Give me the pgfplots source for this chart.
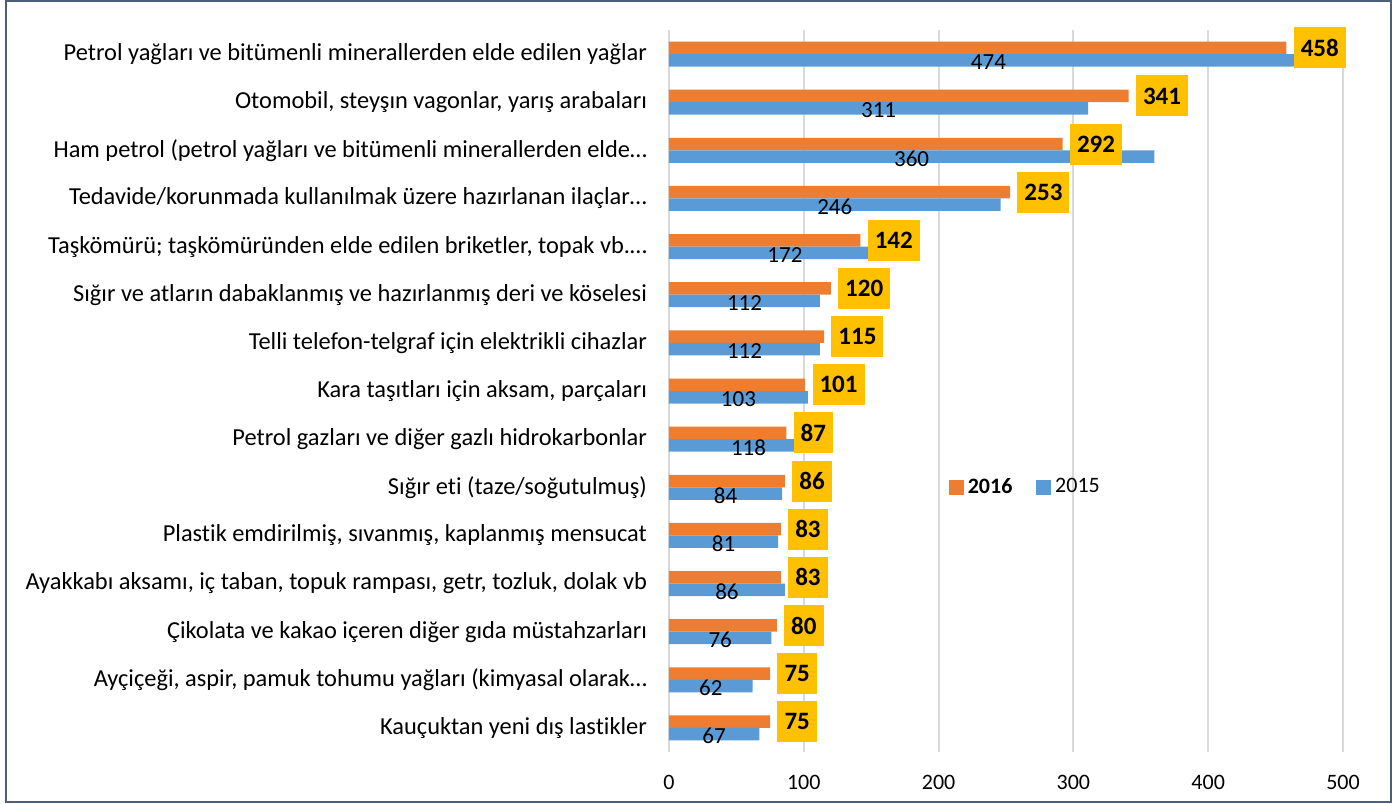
\documentclass[border=0pt]{standalone}
\usepackage{pgfplots}
\pgfplotsset{compat=1.18}
\usepackage{pgfplotstable}
\usepackage{fontspec}
\setmainfont[Ligatures={NoCommon}]{Carlito}
\definecolor{c16}{HTML}{ED7D31}
\definecolor{c15}{HTML}{5B9BD5}
\definecolor{cbox}{HTML}{FFC000}
\definecolor{cgrid}{HTML}{D9D9D9}
\definecolor{cframe}{HTML}{4F5F78}

\pgfplotstableread{
i v16 v15
0 458 474
1 341 311
2 292 360
3 253 246
4 142 172
5 120 112
6 115 112
7 101 103
8 87 118
9 86 84
10 83 81
11 83 86
12 80 76
13 75 62
14 75 67
}\data

\begin{document}
\begin{tikzpicture}
\useasboundingbox (-334.5pt,-25.5pt) rectangle (365.5pt,376pt);
\draw[cframe, line width=1pt] (-331.5pt,-24.75pt) rectangle (361pt,375.25pt);
\begin{axis}[
  at={(0,0)}, anchor=south west,
  scale only axis, width=337pt, height=361pt,
  xmin=0, xmax=500, ymin=-0.5, ymax=14.5, y dir=reverse,
  /pgf/number format/assume math mode=true,
  axis line style={draw=none},
  major tick length=0pt,
  xmajorgrids, grid style={cgrid, line width=1pt},
  xtick={0,100,...,500},
  ytick={0,...,14},
  yticklabels={
    {Petrol yağları ve bitümenli minerallerden elde edilen yağlar},
    {Otomobil, steyşın vagonlar, yarış arabaları},
    {Ham petrol (petrol yağları ve bitümenli minerallerden elde…},
    {Tedavide/korunmada kullanılmak üzere hazırlanan ilaçlar…},
    {Taşkömürü; taşkömüründen elde edilen briketler, topak vb.…},
    {Sığır ve atların dabaklanmış ve hazırlanmış deri ve köselesi},
    {Telli telefon-telgraf için elektrikli cihazlar},
    {Kara taşıtları için aksam, parçaları},
    {Petrol gazları ve diğer gazlı hidrokarbonlar},
    {Sığır eti (taze/soğutulmuş)},
    {Plastik emdirilmiş, sıvanmış, kaplanmış mensucat},
    {Ayakkabı aksamı, iç taban, topuk rampası, getr, tozluk, dolak vb},
    {Çikolata ve kakao içeren diğer gıda müstahzarları},
    {Ayçiçeği, aspir, pamuk tohumu yağları (kimyasal olarak…},
    {Kauçuktan yeni dış lastikler}},
  yticklabel style={font=\fontsize{12.2}{14}\selectfont, anchor=east, xshift=-7.5pt},
  xticklabel style={font=\fontsize{11}{13}\selectfont, yshift=-8pt},
  legend style={at={(axis cs:203,9)}, anchor=west, draw=none, fill=none,
    font=\fontsize{11}{13}\selectfont, legend columns=2,
    /tikz/every even column/.append style={column sep=10pt}},
]
\addplot[xbar, bar width=6.25pt, bar shift=0pt, fill=c16, draw=none, forget plot]
  table[x=v16, y expr=\thisrow{i}-0.13] {\data};
\addplot[xbar, bar width=6.25pt, bar shift=0pt, fill=c15, draw=none, forget plot]
  table[x=v15, y expr=\thisrow{i}+0.13] {\data};
\addplot[draw=none, forget plot, nodes near coords, point meta=explicit,
  every node near coord/.style={anchor=center, font=\fontsize{11.5}{13}\selectfont, text=black, yshift=-1pt}]
  table[x expr=\thisrow{v15}/2, y expr=\thisrow{i}+0.13, meta=v15] {\data};
\addplot[draw=none, forget plot, nodes near coords, point meta=explicit,
  every node near coord/.style={anchor=west, fill=cbox, text=black,
    font=\bfseries\fontsize{12.5}{13}\selectfont, xshift=3.5pt,
    text depth=0pt, minimum height=20.5pt, inner xsep=3.5pt}]
  table[x=v16, y expr=\thisrow{i}-0.13, meta=v16] {\data};
\addlegendimage{legend image code/.code={\fill[c16] (0pt,-3.5pt) rectangle (7pt,3.5pt);}}
\addlegendentry{\textbf{2016}}
\addlegendimage{legend image code/.code={\fill[c15] (0pt,-3.5pt) rectangle (7pt,3.5pt);}}
\addlegendentry{2015}
\end{axis}
\end{tikzpicture}
\end{document}
